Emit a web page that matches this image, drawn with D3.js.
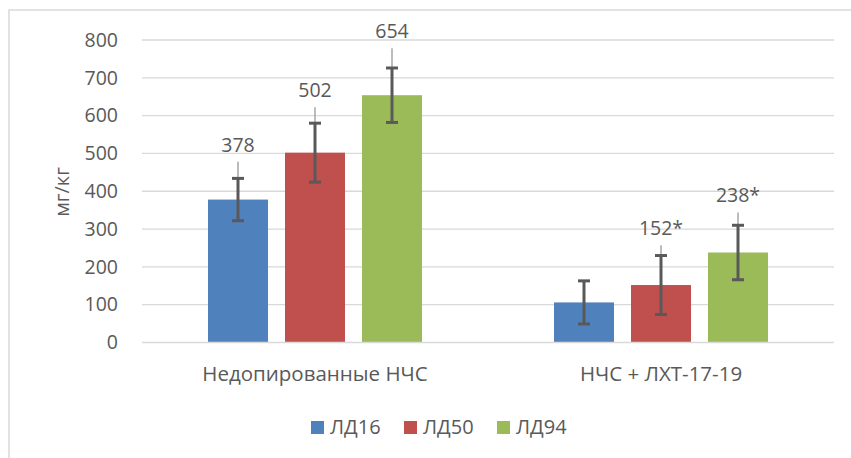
<!DOCTYPE html>
<html>
<head>
<meta charset="utf-8">
<script src="https://cdn.jsdelivr.net/npm/d3@7"></script>
<style>
  html, body { margin: 0; padding: 0; background: #fff; }
  svg { display: block; }
  text { font-family: "Open Sans", "Noto Sans", sans-serif; fill: #595959; }
</style>
</head>
<body>
<svg id="chart" width="851" height="458"></svg>
<script>
// Groups and series
const groups = ["Недопированные НЧС", "НЧС + ЛХТ-17-19"];
const series = ["ЛД16", "ЛД50", "ЛД94"];
const colors = ["#4f81bd", "#c0504d", "#9bbb59"];

// Mean values per group (rows) and series (columns)
const values = [
  [378, 502, 654],
  [106, 152, 238]
];
// Standard deviation (dark, capped bars)
const sdErrors = [
  [56, 78, 72],
  [57, 78, 72]
];
// Upper spread (thin light line, plus direction only); null = not drawn
const upperErrors = [
  [100, 120, 124],
  [null, 105, 106]
];
// Value labels above bars; null = no label
const labels = [
  ["378", "502", "654"],
  [null, "152*", "238*"]
];
const yTicks = [0, 100, 200, 300, 400, 500, 600, 700, 800];
const yTitle = "мг/кг";

const svg = d3.select("#chart");

// Outer chart frame
svg.append("rect")
  .attr("x", 9).attr("y", 10)
  .attr("width", 900).attr("height", 500)
  .attr("fill", "none").attr("stroke", "#d9d9d9").attr("stroke-width", 1.5);

const plot = { left: 142, right: 834, top: 40, bottom: 342.5 };

const y = d3.scaleLinear().domain([0, 800]).range([plot.bottom, plot.top]);
const x0 = d3.scaleBand().domain(groups).range([plot.left, plot.right])
  .paddingInner(0.3815).paddingOuter(0.3815 / 2);
const x1 = d3.scaleBand().domain(series).range([0, x0.bandwidth()])
  .paddingInner(17 / 77).paddingOuter(0);

// Gridlines
svg.append("g")
  .selectAll("line").data(yTicks.filter(d => d > 0)).join("line")
  .attr("x1", plot.left).attr("x2", plot.right)
  .attr("y1", d => y(d)).attr("y2", d => y(d))
  .attr("stroke", "#d9d9d9").attr("stroke-width", 1.3);

// Y axis labels
const yAxis = svg.append("g")
  .attr("transform", `translate(${plot.left},0)`)
  .call(d3.axisLeft(y).tickValues(yTicks).tickSize(0).tickPadding(24));
yAxis.select(".domain").remove();
yAxis.selectAll("text")
  .style("font-family", '"Open Sans", sans-serif')
  .style("font-size", "19.5px").attr("fill", "#595959");

// Y axis title
svg.append("text")
  .attr("transform", `translate(69,192) rotate(-90)`)
  .attr("text-anchor", "middle")
  .style("font-size", "20px")
  .text(yTitle);

// Bars
const flat = [];
groups.forEach((g, gi) => series.forEach((s, si) => {
  flat.push({ g, s, si, v: values[gi][si], sd: sdErrors[gi][si],
              up: upperErrors[gi][si], label: labels[gi][si] });
}));
const cx = d => x0(d.g) + x1(d.s) + x1.bandwidth() / 2;

svg.append("g").selectAll("rect").data(flat).join("rect")
  .attr("x", d => x0(d.g) + x1(d.s))
  .attr("y", d => y(d.v))
  .attr("width", x1.bandwidth())
  .attr("height", d => y(0) - y(d.v))
  .attr("fill", d => colors[d.si]);

// Baseline
svg.append("line")
  .attr("x1", plot.left).attr("x2", plot.right)
  .attr("y1", y(0)).attr("y2", y(0))
  .attr("stroke", "#d9d9d9").attr("stroke-width", 1.5);

// Thin upper spread lines
svg.append("g").selectAll("line").data(flat.filter(d => d.up != null)).join("line")
  .attr("x1", cx).attr("x2", cx)
  .attr("y1", d => y(d.v)).attr("y2", d => y(d.v + d.up))
  .attr("stroke", "#a6a6a6").attr("stroke-width", 1.5);

// SD error bars with caps
const eb = svg.append("g").selectAll("g").data(flat).join("g");
eb.append("line")
  .attr("x1", cx).attr("x2", cx)
  .attr("y1", d => y(d.v - d.sd)).attr("y2", d => y(d.v + d.sd))
  .attr("stroke", "#595959").attr("stroke-width", 3);
eb.selectAll("line.cap").data(d => [d.v - d.sd, d.v + d.sd].map(v => ({ d, v })))
  .join("line").attr("class", "cap")
  .attr("x1", e => cx(e.d) - 6).attr("x2", e => cx(e.d) + 6)
  .attr("y1", e => y(e.v)).attr("y2", e => y(e.v))
  .attr("stroke", "#595959").attr("stroke-width", 3);

// Value labels
svg.append("g").selectAll("text").data(flat.filter(d => d.label)).join("text")
  .attr("x", cx)
  .attr("y", d => y(d.v + (d.up || d.sd)) - 10)
  .attr("text-anchor", "middle")
  .style("font-size", "19.5px")
  .text(d => d.label);

// Category labels
svg.append("g").selectAll("text").data(groups).join("text")
  .attr("x", d => x0(d) + x0.bandwidth() / 2)
  .attr("y", 381)
  .attr("text-anchor", "middle")
  .style("font-size", "20.5px")
  .text(d => d);

// Legend
const legendX = [311, 404, 497];
const lg = svg.append("g").selectAll("g").data(series).join("g")
  .attr("transform", (d, i) => `translate(${legendX[i]},421)`);
lg.append("rect").attr("width", 13).attr("height", 13).attr("fill", (d, i) => colors[i]);
lg.append("text").attr("x", 19).attr("y", 13)
  .style("font-size", "20px").text(d => d);
</script>
</body>
</html>
